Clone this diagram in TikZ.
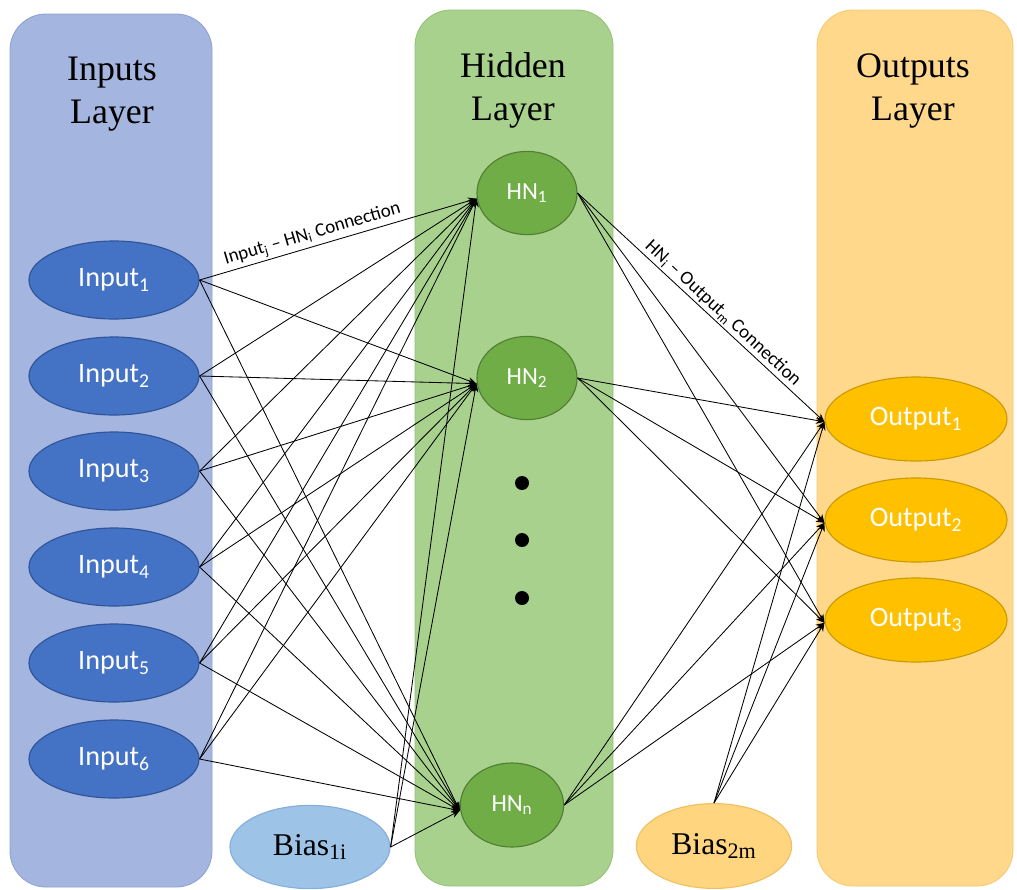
\documentclass[tikz,border=0pt]{standalone}
\usepackage{fontspec}
\setmainfont{Liberation Serif}
\newfontfamily\calfont[Ligatures=TeX]{Carlito}
\usetikzlibrary{shapes.geometric,arrows.meta}
\definecolor{pin}{HTML}{A4B5DF}
\definecolor{pinb}{HTML}{8EA1D3}
\definecolor{phid}{HTML}{A9D18E}
\definecolor{phidb}{HTML}{93C272}
\definecolor{pout}{HTML}{FFD88C}
\definecolor{poutb}{HTML}{F5C96E}
\definecolor{cin}{HTML}{4472C4}
\definecolor{cinb}{HTML}{2F5597}
\definecolor{chid}{HTML}{70AD47}
\definecolor{chidb}{HTML}{507E32}
\definecolor{cout}{HTML}{FFC000}
\definecolor{coutb}{HTML}{C99A06}
\definecolor{cbA}{HTML}{9DC3E6}
\definecolor{cbAb}{HTML}{85AEDA}
\definecolor{cbB}{HTML}{FFD580}
\definecolor{cbBb}{HTML}{F0C060}
\tikzset{
  panel/.style={rounded corners=0.9cm, line width=0.6pt},
  title/.style={font=\fontsize{25.5}{30.5}\selectfont, align=center},
  inp/.style={ellipse, draw=cinb, fill=cin, line width=0.8pt, minimum width=4.25cm, minimum height=1.95cm, inner sep=0pt, text=white, font=\calfont\fontsize{20}{24}\selectfont},
  hid/.style={ellipse, draw=chidb, fill=chid, line width=0.8pt, minimum width=2.5cm, minimum height=2.08cm, inner sep=0pt, text=white, font=\calfont\fontsize{17.5}{20}\selectfont},
  outp/.style={ellipse, draw=coutb, fill=cout, line width=0.8pt, minimum width=4.55cm, minimum height=2.1cm, inner sep=0pt, text=white, font=\calfont\fontsize{20}{24}\selectfont},
  biasA/.style={ellipse, draw=cbAb, fill=cbA, line width=0.8pt, minimum width=4.0cm, minimum height=2.08cm, inner sep=0pt, font=\fontsize{22.5}{26}\selectfont},
  biasB/.style={ellipse, draw=cbBb, fill=cbB, line width=0.8pt, minimum width=3.88cm, minimum height=2.12cm, inner sep=0pt, font=\fontsize{22.5}{26}\selectfont},
  edge/.style={draw=black, line width=0.6pt, -{Stealth[length=6pt,width=5pt]}},
  conlabel/.style={font=\calfont\fontsize{13.5}{16}\selectfont, inner sep=1.5pt},
  dotn/.style={circle, fill=black, minimum size=0.35cm, inner sep=0pt}
}
\begin{document}
\begin{tikzpicture}[x=0.025cm,y=-0.025cm]
\useasboundingbox (0,0) rectangle (1017,889);
% panels
\draw[panel, fill=pin, draw=pinb] (10,14) rectangle (212,887);
\draw[panel, fill=phid, draw=phidb] (415,10) rectangle (613,886);
\draw[panel, fill=pout, draw=poutb] (817,10) rectangle (1013,886);
% titles
\node[title] (tin) at (112,94) {Inputs\\Layer};
\node[title] (thid) at (513,90) {Hidden\\Layer};
\node[title] (tout) at (913,91) {Outputs\\Layer};
% input nodes
\node[inp] (I1) at (114,280) {Input\textsubscript{1}};
\node[inp] (I2) at (114,376) {Input\textsubscript{2}};
\node[inp] (I3) at (114,471) {Input\textsubscript{3}};
\node[inp] (I4) at (114,567) {Input\textsubscript{4}};
\node[inp] (I5) at (114,663) {Input\textsubscript{5}};
\node[inp] (I6) at (114,759) {Input\textsubscript{6}};
% hidden nodes
\node[hid] (H1) at (527,193) {HN\textsubscript{1}};
\node[hid] (H2) at (527,378) {HN\textsubscript{2}};
\node[hid, minimum width=2.58cm, minimum height=2.1cm] (Hn) at (512,805) {HN\textsubscript{n}};
\node[dotn] (d1) at (522,483) {};
\node[dotn] (d2) at (522,540) {};
\node[dotn] (d3) at (522,598) {};
% output nodes
\node[outp] (O1) at (916,419) {Output\textsubscript{1}};
\node[outp] (O2) at (916,520) {Output\textsubscript{2}};
\node[outp] (O3) at (916,620) {Output\textsubscript{3}};
% bias nodes
\node[biasA] (B1) at (310,847) {Bias\textsubscript{1i}};
\node[biasB] (B2) at (714,846) {Bias\textsubscript{2m}};
% input -> hidden
\foreach \i in {I1,I2,I3,I4,I5,I6}{
  \foreach \h in {H1,H2,Hn}{
    \draw[edge] (\i.east) -- ([yshift=-4pt]\h.west);
  }
}
\foreach \h in {H1,H2,Hn}{
  \draw[edge] (B1.east) -- ([yshift=-4pt]\h.west);
}
% hidden -> output
\foreach \h in {H1,H2,Hn}{
  \foreach \o in {O1,O2,O3}{
    \draw[edge] (\h.east) -- ([yshift=-2pt]\o.west);
  }
}
\foreach \o in {O1,O2,O3}{
  \draw[edge] (B2.north) -- ([yshift=-2pt]\o.west);
}
% connection labels
\path (I1.east) -- ([yshift=-4pt]H1.west) node[conlabel, sloped, above, pos=0.42] (l1) {Input\textsubscript{j} \textendash{} HN\textsubscript{i} Connection};
\path (H1.east) -- ([yshift=-2pt]O1.west) node[conlabel, sloped, above, pos=0.56] (l2) {HN\textsubscript{i} \textendash{} Output\textsubscript{m} Connection};
\end{tikzpicture}
\end{document}
